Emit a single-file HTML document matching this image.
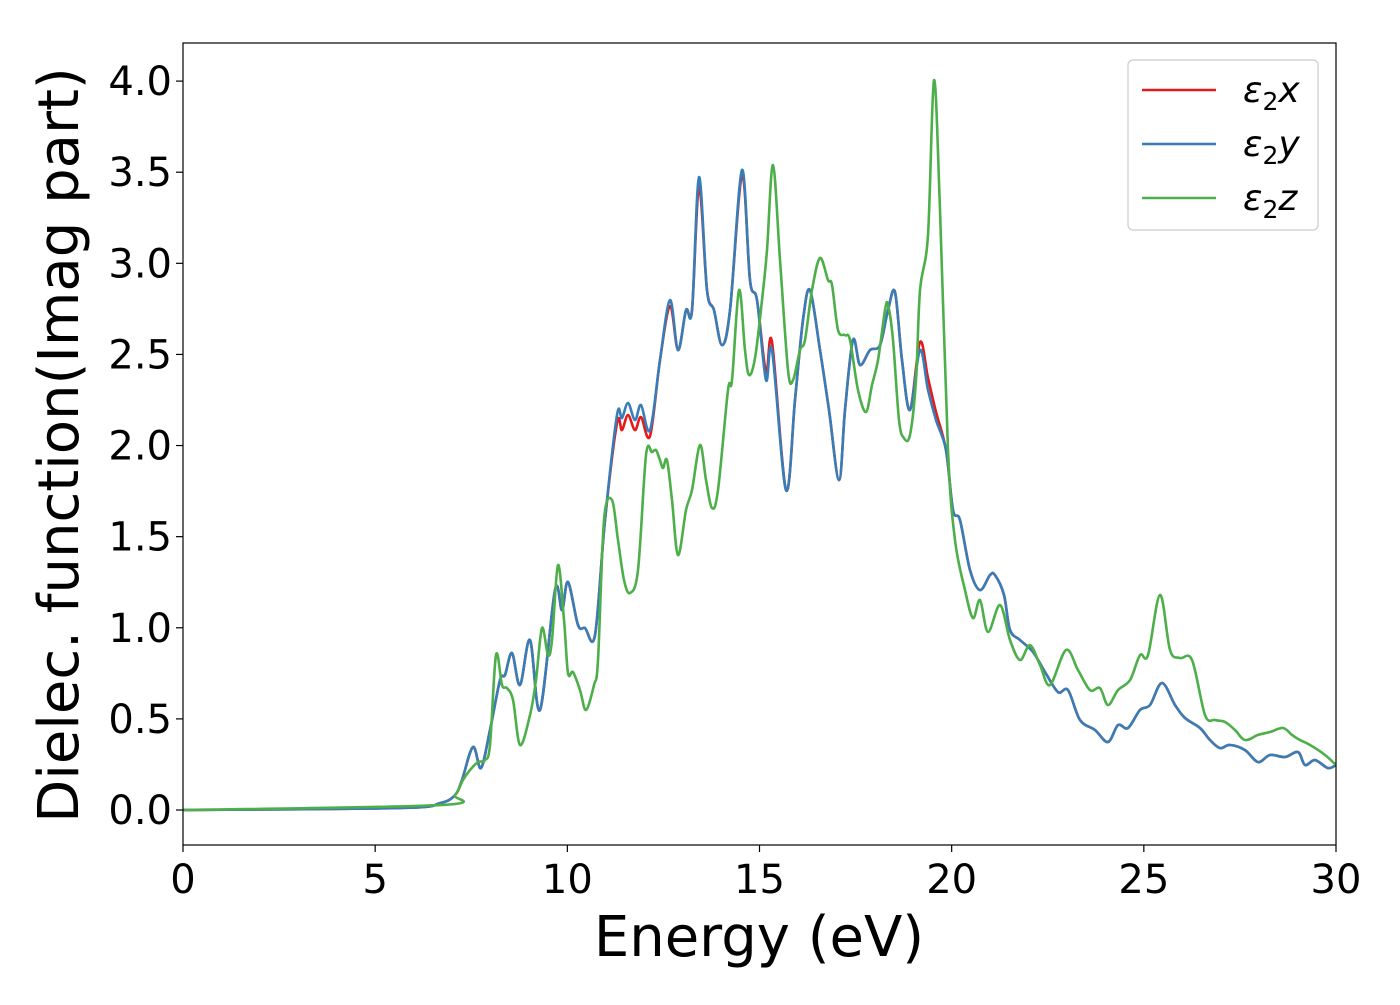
<!DOCTYPE html>
<html><head><meta charset="utf-8"><style>
html,body{margin:0;padding:0;background:#fff;}
svg text{font-family:"DejaVu Sans","Liberation Sans",sans-serif;fill:#000;}
</style></head><body>
<svg id="chart" width="1400" height="1000" xmlns="http://www.w3.org/2000/svg">
<rect width="1400" height="1000" fill="#fff"/>
<g id="series"></g>
<rect x="183" y="43" width="1153" height="802" fill="none" stroke="#000" stroke-width="1.2"/>
<g id="xticks"></g>
<g id="yticks"></g>
<text x="759" y="956" font-size="56" text-anchor="middle">Energy (eV)</text>
<text transform="translate(78,445) rotate(-90)" font-size="56" text-anchor="middle">Dielec. function(Imag part)</text>
<g>
<rect x="1128" y="60" width="190" height="170" rx="5" fill="#fff" stroke="#ccc" stroke-width="1.2"/>
<line x1="1142" y1="90" x2="1216" y2="90" stroke="#e41a1c" stroke-width="2.5"/>
<text x="1243" y="102" font-size="36" font-style="italic">ε<tspan font-style="normal" font-size="25" dy="8">2</tspan><tspan dy="-8">x</tspan></text>
<line x1="1142" y1="144" x2="1216" y2="144" stroke="#377eb8" stroke-width="2.5"/>
<text x="1243" y="156" font-size="36" font-style="italic">ε<tspan font-style="normal" font-size="25" dy="8">2</tspan><tspan dy="-8">y</tspan></text>
<line x1="1142" y1="198" x2="1216" y2="198" stroke="#4daf4a" stroke-width="2.5"/>
<text x="1243" y="210" font-size="36" font-style="italic">ε<tspan font-style="normal" font-size="25" dy="8">2</tspan><tspan dy="-8">z</tspan></text>
</g>
</svg>
<script>
// pixel-read points converted: arrays hold [energy, value] pairs
const yPx = [[183,810],[400,808],[440,803],[455,795],[462,780],[473,747],[481,768],[490,730],[500,680],[505,675],[512,653],[520,685],[530,640],[540,710],[555,590],[562,610],[568,582],[578,625],[585,628],[595,635],[605,520],[617,415],[622,418],[628,403],[635,420],[641,405],[650,430],[660,360],[670,300],[678,350],[686,310],[692,310],[699,177],[707,290],[714,310],[722,345],[730,310],[742,170],[750,280],[757,300],[766,380],[772,350],[786,490],[795,400],[803,320],[810,290],[820,350],[829,410],[839,480],[845,410],[853,340],[860,365],[870,350],[880,345],[888,310],[895,292],[902,360],[910,410],[920,350],[928,390],[936,420],[946,450],[953,510],[960,520],[970,570],[980,590],[990,575],[995,575],[1004,595],[1010,630],[1020,640],[1033,652],[1045,672],[1058,692],[1068,690],[1080,720],[1095,730],[1108,742],[1118,725],[1128,728],[1140,710],[1150,705],[1162,683],[1175,705],[1185,718],[1200,728],[1210,740],[1220,748],[1230,745],[1245,750],[1258,762],[1270,755],[1285,757],[1298,752],[1305,765],[1315,760],[1328,768],[1336,765]];
const xDiffPx = {617:8,622:12,628:12,635:10,641:12,650:6,670:6,699:10,742:5,766:-8,772:-8,920:-8,928:-12,936:-8};
const zPx = [[183,810],[440,805],[455,795],[463,780],[470,770],[478,762],[485,760],[490,745],[496,655],[502,685],[507,688],[513,700],[520,745],[530,715],[536,680],[542,628],[548,655],[552,640],[558,565],[564,620],[568,673],[573,672],[580,690],[586,710],[594,685],[598,660],[604,520],[612,500],[618,540],[624,580],[630,593],[638,570],[646,455],[652,452],[656,450],[660,460],[663,468],[667,460],[672,500],[678,555],[686,510],[692,490],[700,445],[706,480],[712,508],[718,490],[728,390],[732,380],[739,290],[745,350],[749,375],[755,358],[762,300],[767,250],[773,165],[780,260],[788,370],[793,380],[800,350],[805,340],[812,290],[820,258],[828,280],[832,285],[838,330],[845,335],[850,340],[858,390],[866,412],[872,385],[878,360],[885,310],[888,305],[893,340],[899,420],[904,438],[910,435],[916,380],[920,290],[928,235],[934,80],[940,210],[948,450],[955,540],[965,590],[973,618],[980,600],[988,632],[1000,605],[1010,640],[1020,660],[1030,645],[1040,665],[1050,685],[1066,650],[1078,670],[1090,690],[1100,688],[1108,705],[1118,690],[1130,680],[1140,655],[1148,655],[1160,595],[1170,650],[1180,658],[1192,660],[1205,715],[1215,720],[1225,722],[1235,730],[1245,740],[1258,735],[1270,732],[1283,728],[1292,735],[1300,740],[1310,745],[1325,755],[1336,765]];
function toE(p){return +((p-183)/38.433).toFixed(3);}
function toV(p){return +((810-p)/182.25).toFixed(3);}
const energyY = yPx.map(p=>toE(p[0]));
const eps2y = yPx.map(p=>toV(p[1]));
const energyX = energyY.slice();
const eps2x = yPx.map(p=>toV(p[1]+(xDiffPx[p[0]]||0)));
const energyZ = zPx.map(p=>toE(p[0]));
const eps2z = zPx.map(p=>toV(p[1]));
const xTicks = [0,5,10,15,20,25,30];
const yTicks = [0.0,0.5,1.0,1.5,2.0,2.5,3.0,3.5,4.0];

const X0=183,X1=1336,Y0=845,Y1=43, xMin=0,xMax=30,yMin=-0.192,yMax=4.209;
function sx(v){return X0+(v-xMin)/(xMax-xMin)*(X1-X0);}
function sy(v){return Y0-(v-yMin)/(yMax-yMin)*(Y0-Y1);}
function pathFor(xs,ys){
  const P=xs.map((x,i)=>[sx(x),sy(ys[i])]);
  let d='M'+P[0][0].toFixed(1)+','+P[0][1].toFixed(1);
  for(let i=0;i<P.length-1;i++){
    const p0=P[Math.max(0,i-1)],p1=P[i],p2=P[i+1],p3=P[Math.min(P.length-1,i+2)];
    const c1=[p1[0]+(p2[0]-p0[0])/6,p1[1]+(p2[1]-p0[1])/6];
    const c2=[p2[0]-(p3[0]-p1[0])/6,p2[1]-(p3[1]-p1[1])/6];
    d+='C'+c1[0].toFixed(1)+','+c1[1].toFixed(1)+' '+c2[0].toFixed(1)+','+c2[1].toFixed(1)+' '+p2[0].toFixed(1)+','+p2[1].toFixed(1);
  }
  return d;
}
const NS='http://www.w3.org/2000/svg';
const g=document.getElementById('series');
const clip=document.createElementNS(NS,'clipPath');clip.setAttribute('id','clipP');
const cr=document.createElementNS(NS,'rect');cr.setAttribute('x',X0);cr.setAttribute('y',Y1);cr.setAttribute('width',X1-X0);cr.setAttribute('height',Y0-Y1);
clip.appendChild(cr);g.appendChild(clip);
[[energyX,eps2x,'#e41a1c','series-eps2x'],[energyY,eps2y,'#377eb8','series-eps2y'],[energyZ,eps2z,'#4daf4a','series-eps2z']].forEach(s=>{
  const p=document.createElementNS(NS,'path');
  p.setAttribute('d',pathFor(s[0],s[1]));
  p.setAttribute('fill','none');p.setAttribute('stroke',s[2]);p.setAttribute('stroke-width','2.6');
  p.setAttribute('clip-path','url(#clipP)');
  
  
  g.appendChild(p);
});
const xg=document.getElementById('xticks');
xTicks.forEach(t=>{
  const l=document.createElementNS(NS,'line');
  l.setAttribute('x1',sx(t));l.setAttribute('x2',sx(t));l.setAttribute('y1',Y0);l.setAttribute('y2',Y0+7);l.setAttribute('stroke','#000');l.setAttribute('stroke-width','1.2');
  
  
  xg.appendChild(l);
  const tx=document.createElementNS(NS,'text');
  tx.setAttribute('x',sx(t));tx.setAttribute('y',893);tx.setAttribute('font-size','40');tx.setAttribute('text-anchor','middle');
  tx.textContent=t;
  
  
  xg.appendChild(tx);
});
const yg=document.getElementById('yticks');
yTicks.forEach(t=>{
  const l=document.createElementNS(NS,'line');
  l.setAttribute('x1',X0-7);l.setAttribute('x2',X0);l.setAttribute('y1',sy(t));l.setAttribute('y2',sy(t));l.setAttribute('stroke','#000');l.setAttribute('stroke-width','1.2');
  
  
  yg.appendChild(l);
  const tx=document.createElementNS(NS,'text');
  tx.setAttribute('x',172);tx.setAttribute('y',sy(t)+14);tx.setAttribute('font-size','40');tx.setAttribute('text-anchor','end');
  tx.textContent=t.toFixed(1);
  
  
  yg.appendChild(tx);
});
</script>
</body></html>
